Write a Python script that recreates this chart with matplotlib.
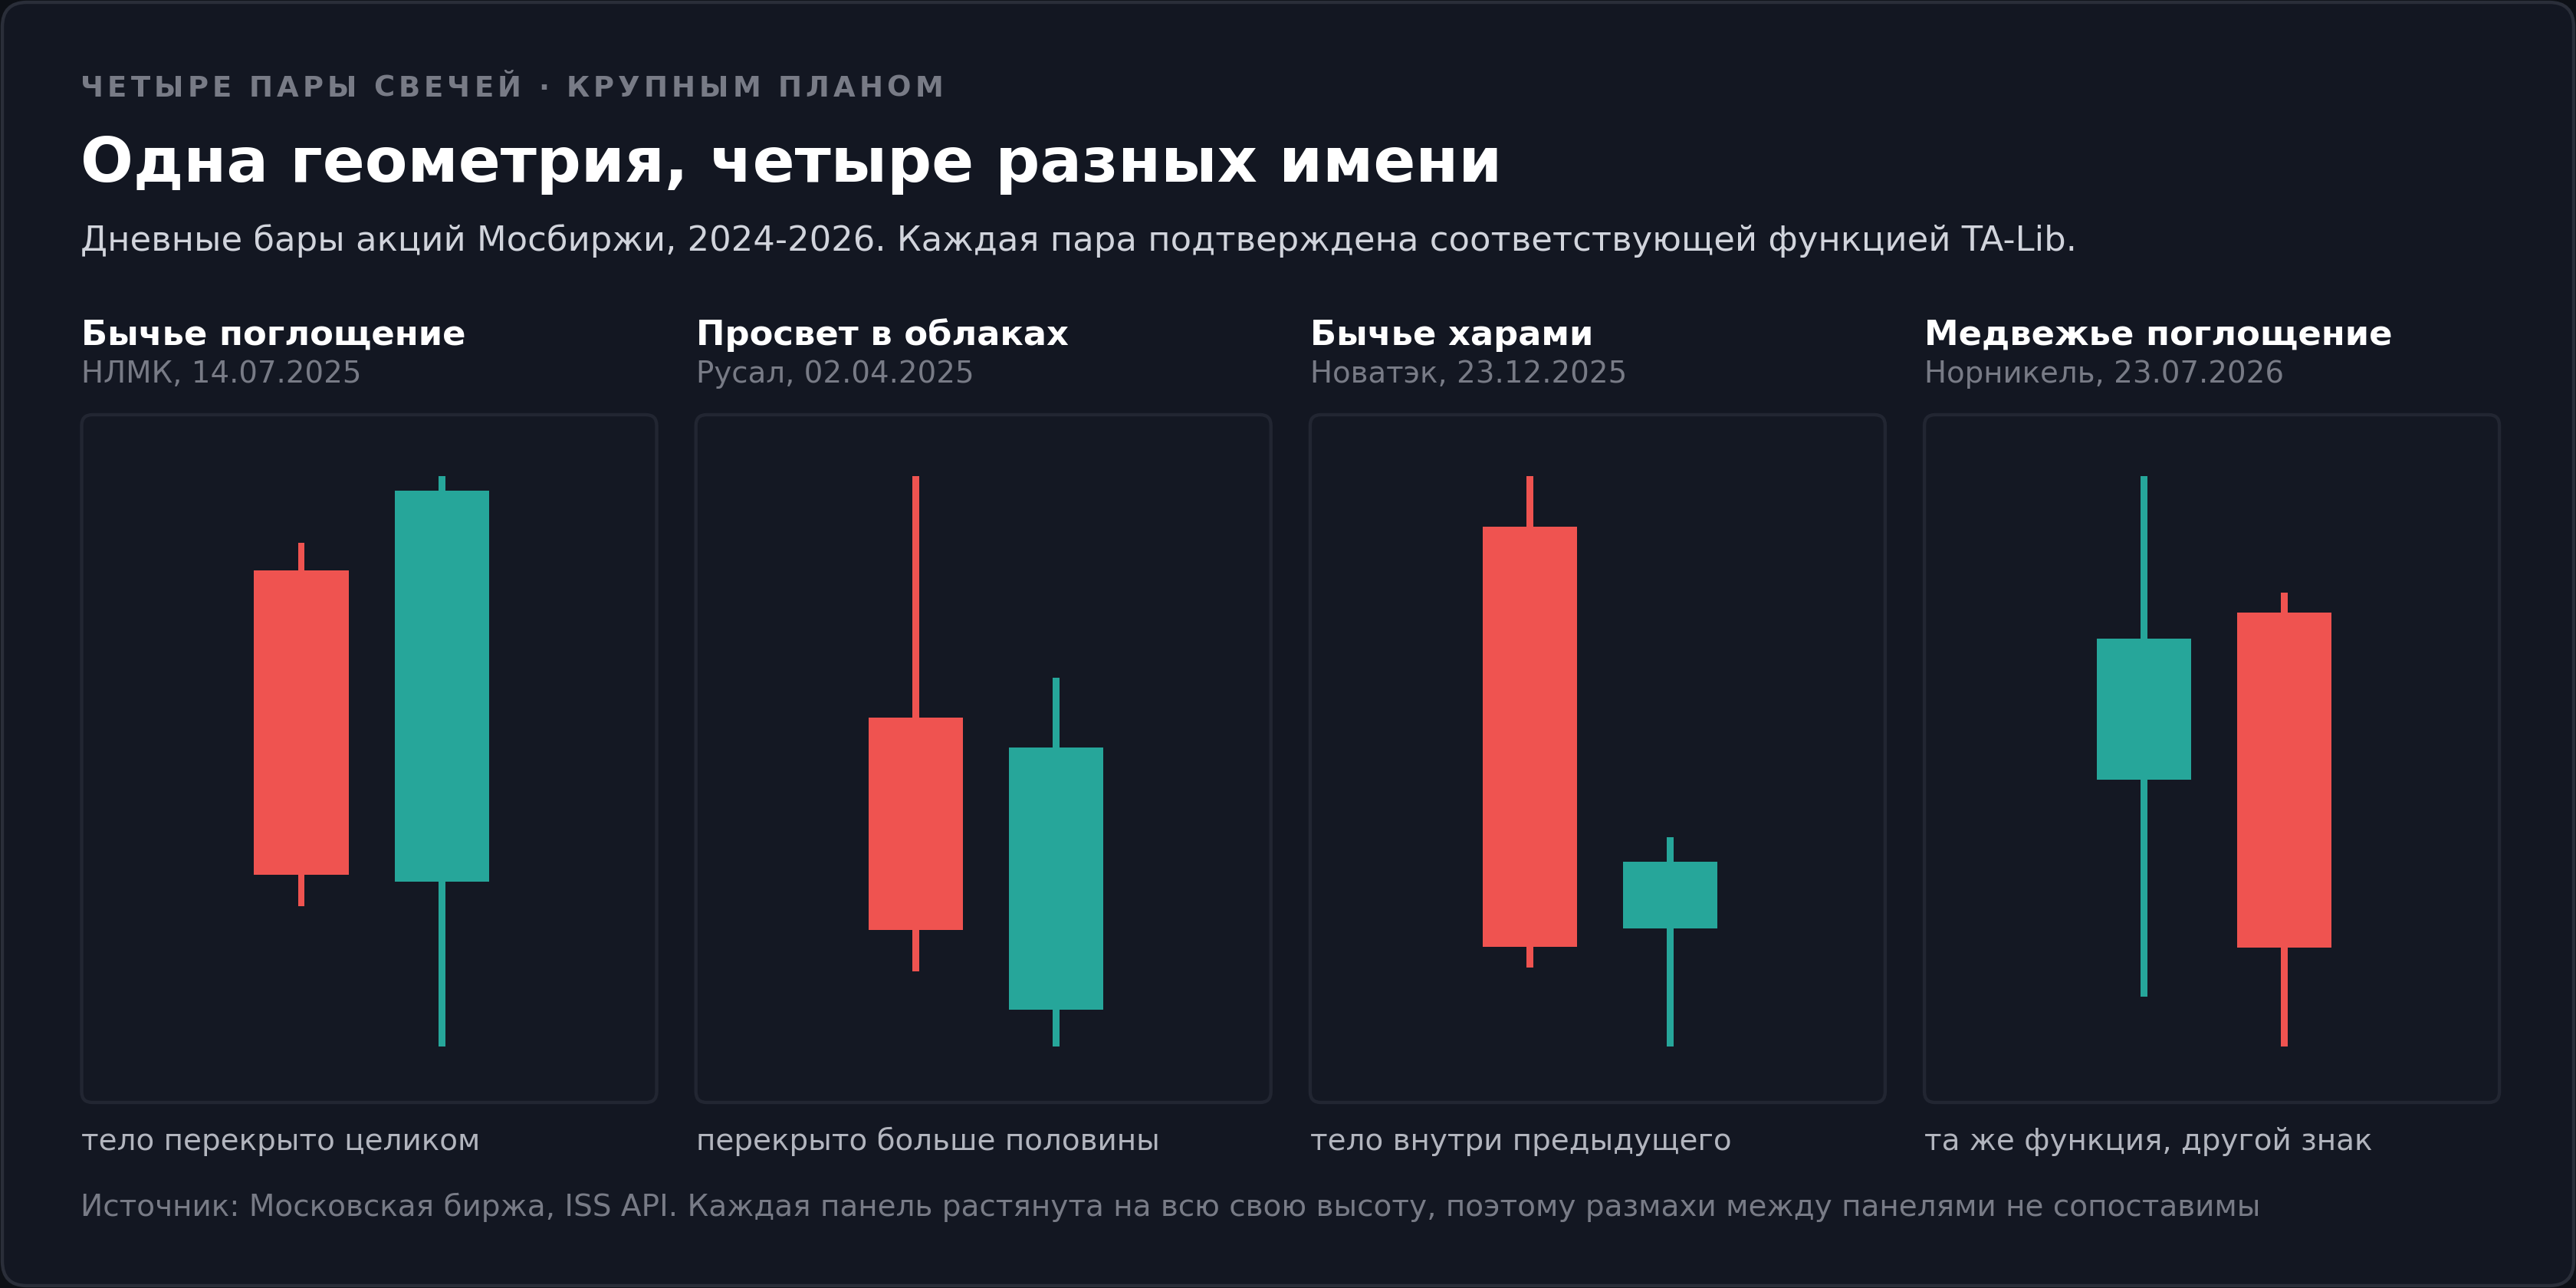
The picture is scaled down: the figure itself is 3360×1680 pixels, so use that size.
import matplotlib.pyplot as plt
from matplotlib.patches import FancyBboxPatch

# values, each panel scaled to its own range (0 = lowest low, 100 = highest high)
patterns = ["Бычье поглощение", "Просвет в облаках", "Бычье харами", "Медвежье поглощение"]
tickers = ["НЛМК, 14.07.2025", "Русал, 02.04.2025", "Новатэк, 23.12.2025", "Норникель, 23.07.2026"]
notes = ["тело перекрыто целиком", "перекрыто больше половины",
         "тело внутри предыдущего", "та же функция, другой знак"]

open1 = [83.4, 57.7, 91.1, 46.8]
high1 = [88.3, 100.0, 100.0, 100.0]
low1 = [24.6, 13.2, 13.8, 8.7]
close1 = [30.1, 20.4, 17.5, 71.5]

open2 = [28.9, 6.5, 20.7, 76.1]
high2 = [100.0, 64.7, 36.7, 79.6]
low2 = [0.0, 0.0, 0.0, 0.0]
close2 = [97.5, 52.4, 32.4, 17.4]

kicker = "ЧЕТЫРЕ ПАРЫ СВЕЧЕЙ · КРУПНЫМ ПЛАНОМ"
title = "Одна геометрия, четыре разных имени"
subtitle = ("Дневные бары акций Мосбиржи, 2024-2026. Каждая пара подтверждена "
            "соответствующей функцией TA-Lib.")
footer = ("Источник: Московская биржа, ISS API. Каждая панель растянута на всю свою высоту, "
          "поэтому размахи между панелями не сопоставимы")

BG = "#131722"
UP = "#26a69a"
DOWN = "#ef5350"

W, H = 3360, 1680
plt.rcParams['font.family'] = ['DejaVu Sans']
fig = plt.figure(figsize=(16, 8), dpi=210)
fig.patch.set_facecolor("#0d1016")

# canvas in pixel coords for background and text
cv = fig.add_axes([0, 0, 1, 1])
cv.set_xlim(0, W)
cv.set_ylim(H, 0)
cv.axis("off")
cv.add_patch(FancyBboxPatch((3, 3), W - 6, H - 6, boxstyle="round,pad=0,rounding_size=32",
                            facecolor=BG, edgecolor="#2a2e39", linewidth=1.5))

# kicker with letter spacing
r = fig.canvas.get_renderer()
kw = dict(fontsize=12.7, fontweight="bold", color="#787b86", va="baseline", ha="left")
widths = []
for ch in kicker:
    t = cv.text(0, 0, ch if ch != " " else "-", **kw)
    widths.append(t.get_window_extent(renderer=r).width if ch != " " else 12.0)
    t.remove()
gap = (1125 - sum(widths)) / (len(kicker) - 1)
x = 105
for ch, w in zip(kicker, widths):
    if ch != " ":
        cv.text(x, 126, ch, **kw)
    x += w + gap

cv.text(105, 237, title, fontsize=27.8, fontweight="bold", color="white", va="baseline")
cv.text(105, 327, subtitle, fontsize=15.4, color="#d1d4dc", va="baseline")

left0, step, pw = 106.5, 801.2, 750
top, bottom = 541, 1438
for k in range(4):
    px = left0 + k * step
    cv.text(px, 450, patterns[k], fontsize=15.4, fontweight="bold", color="white", va="baseline")
    cv.text(px, 499, tickers[k], fontsize=13.3, color="#787b86", va="baseline")
    cv.text(px, 1500, notes[k], fontsize=13.35, color="#b2b5be", va="baseline")
    cv.add_patch(FancyBboxPatch((px, top), pw, bottom - top,
                                boxstyle="round,pad=0,rounding_size=14",
                                facecolor="#141823", edgecolor="#222632", linewidth=1.5))

    ax = fig.add_axes([px / W, 1 - bottom / H, pw / W, (bottom - top) / H])
    ax.patch.set_alpha(0)
    ax.axis("off")
    candles = [(open1[k], high1[k], low1[k], close1[k]),
               (open2[k], high2[k], low2[k], close2[k])]
    for i, (o, hi, lo, c) in enumerate(candles):
        col = UP if c >= o else DOWN
        ax.bar(i, hi - lo, bottom=lo, width=0.048, color=col, linewidth=0)
        ax.bar(i, abs(c - o), bottom=min(o, c), width=0.672, color=col, linewidth=0)
    ax.set_xlim(-1.564, 2.53)
    ax.set_ylim(-9.81, 110.75)

cv.text(105, 1586, footer, fontsize=13.4, color="#787b86", va="baseline")

fig.savefig("out.png", dpi=210, facecolor=fig.get_facecolor())
